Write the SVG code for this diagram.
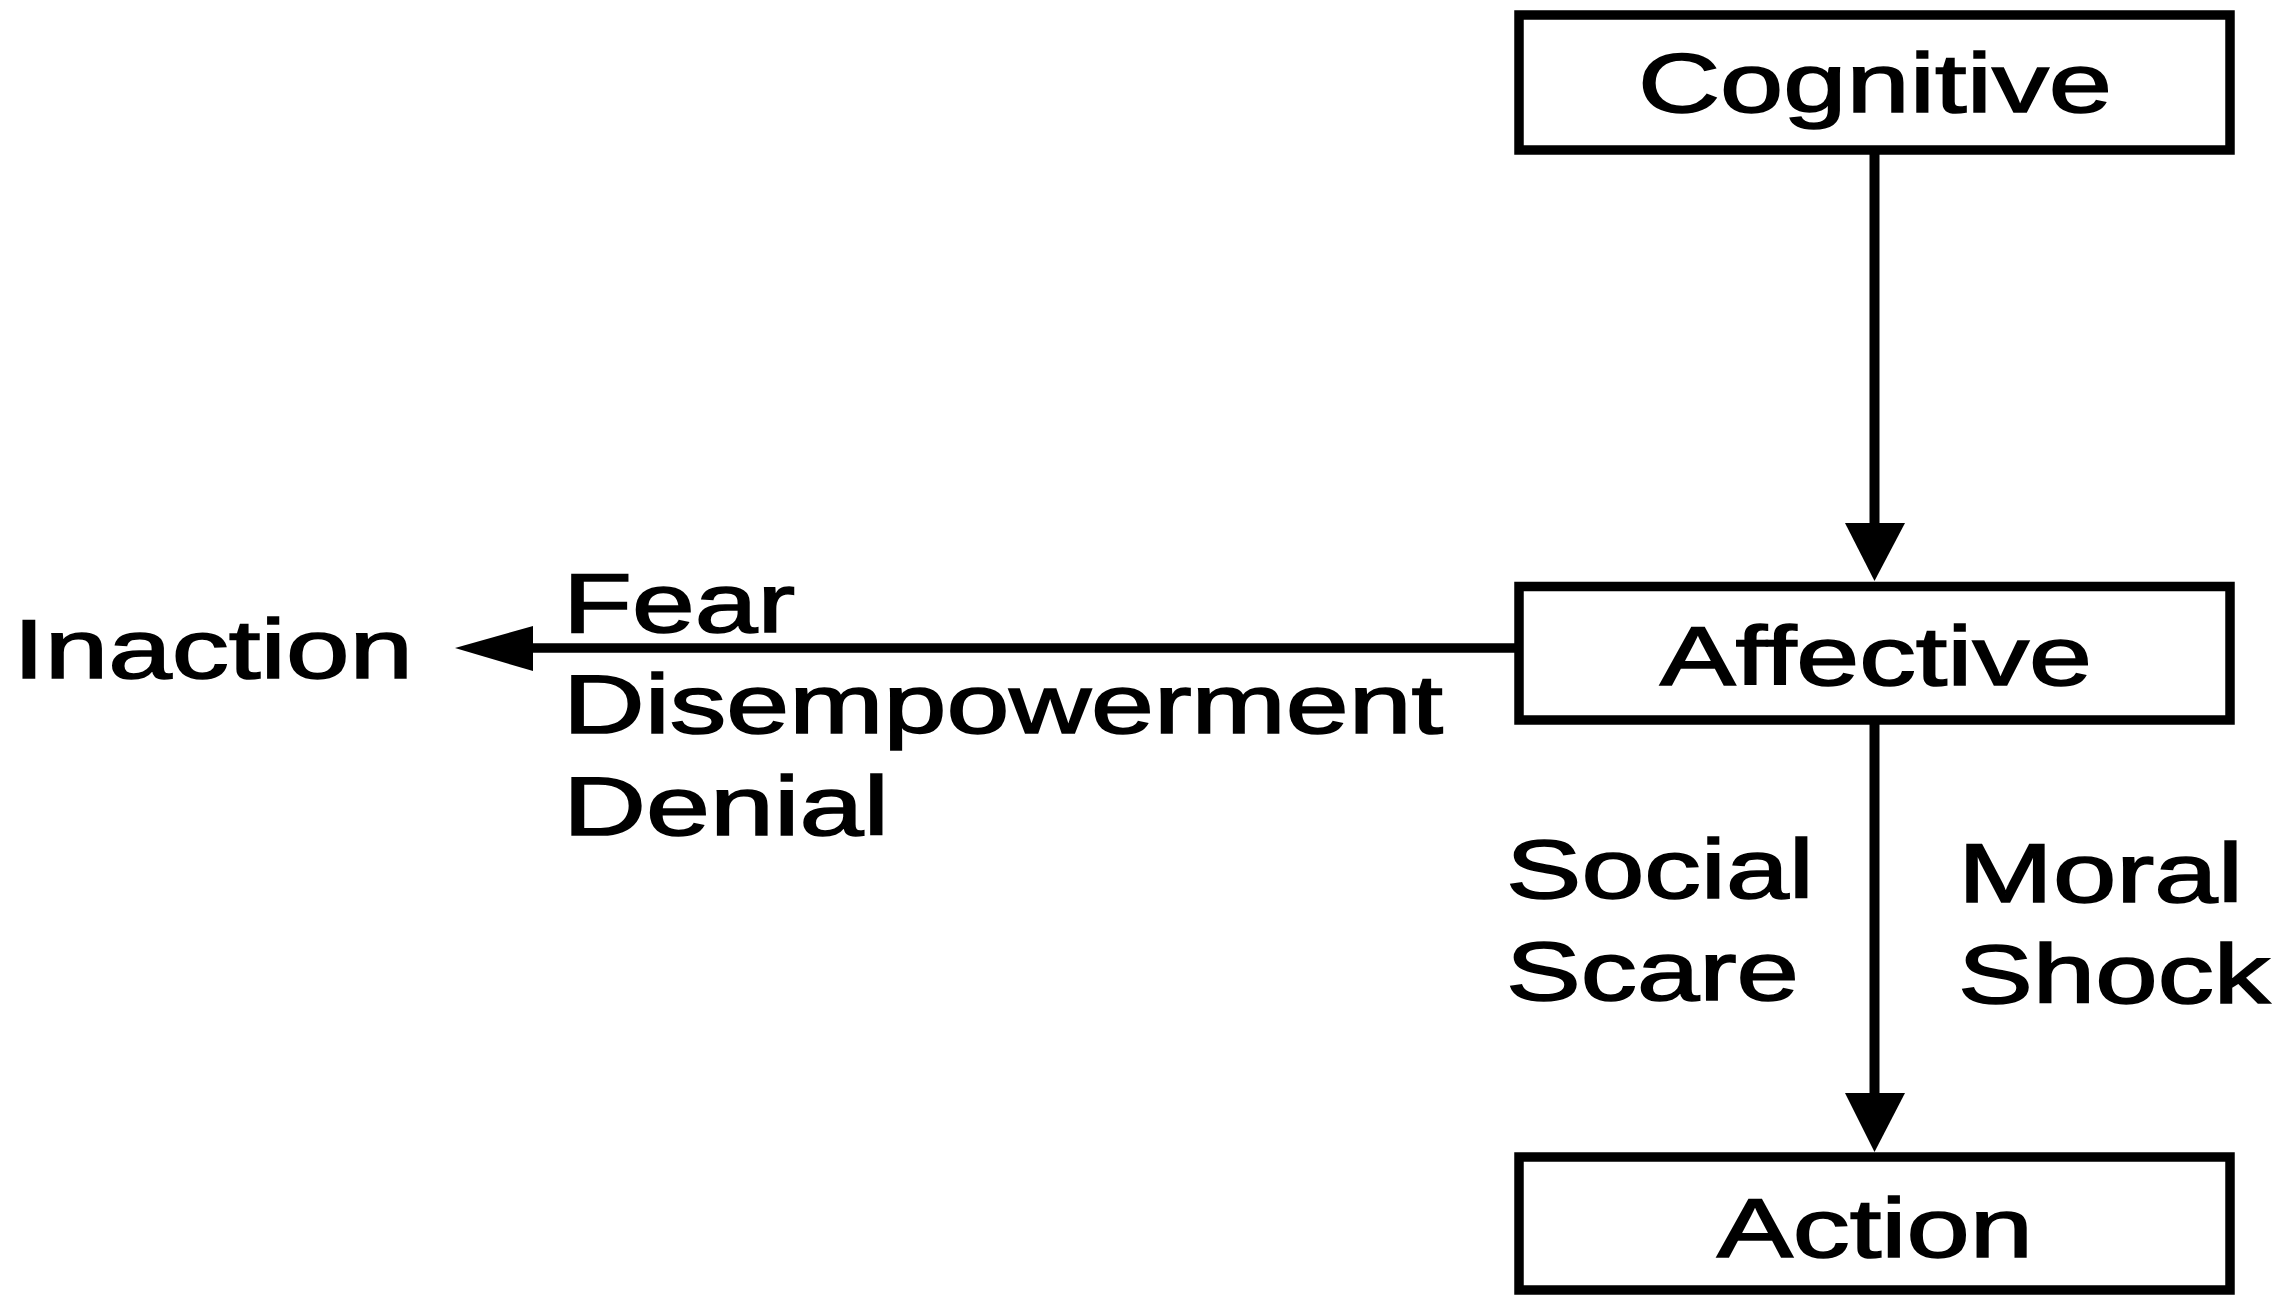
<svg xmlns="http://www.w3.org/2000/svg" width="2282" height="1295" viewBox="0 0 2282 1295">
  <style>
    .box { fill: #ffffff; stroke: #000000; stroke-width: 9.5; }
    .lbl { font-family: "Liberation Sans", Arial, sans-serif; font-size: 84px; fill: #000000; stroke: #000000; stroke-width: 1.6; }
    .edge { stroke: #000000; fill: none; }
    .head { fill: #000000; stroke: none; }
  </style>
  <rect x="0" y="0" width="2282" height="1295" fill="#ffffff"/>
  <g id="connectors">
    <line class="edge" x1="1874.5" y1="150" x2="1874.5" y2="525" stroke-width="10"/>
    <polygon class="head" points="1845,523 1905,523 1874.5,581"/>
    <line class="edge" x1="1874.5" y1="720" x2="1874.5" y2="1095" stroke-width="10"/>
    <polygon class="head" points="1845,1093 1905,1093 1874.5,1152"/>
    <line class="edge" x1="1519" y1="648" x2="530" y2="648" stroke-width="9.5"/>
    <polygon class="head" points="533,626 533,671 455,648"/>
  </g>
  <g id="node-cognitive">
    <rect class="box" x="1519" y="15" width="711" height="135"/>
    <text class="lbl" x="1638" y="112" textLength="474" lengthAdjust="spacingAndGlyphs">Cognitive</text>
  </g>
  <g id="node-affective">
    <rect class="box" x="1519" y="586.5" width="711" height="133.5"/>
    <text class="lbl" x="1660" y="685" textLength="432" lengthAdjust="spacingAndGlyphs">Affective</text>
  </g>
  <g id="node-action">
    <rect class="box" x="1519" y="1157" width="711" height="133"/>
    <text class="lbl" x="1717" y="1257" textLength="316" lengthAdjust="spacingAndGlyphs">Action</text>
  </g>
  <g id="node-inaction">
    <text class="lbl" x="13" y="678" textLength="400" lengthAdjust="spacingAndGlyphs">Inaction</text>
  </g>
  <g id="labels-inaction">
    <text class="lbl" x="563" y="632" textLength="232" lengthAdjust="spacingAndGlyphs">Fear</text>
    <text class="lbl" x="563" y="733" textLength="880" lengthAdjust="spacingAndGlyphs">Disempowerment</text>
    <text class="lbl" x="563" y="835" textLength="326" lengthAdjust="spacingAndGlyphs">Denial</text>
  </g>
  <g id="labels-action">
    <text class="lbl" x="1506" y="898" textLength="308" lengthAdjust="spacingAndGlyphs">Social</text>
    <text class="lbl" x="1506" y="1000" textLength="293" lengthAdjust="spacingAndGlyphs">Scare</text>
    <text class="lbl" x="1958" y="902" textLength="285" lengthAdjust="spacingAndGlyphs">Moral</text>
    <text class="lbl" x="1958" y="1003" textLength="312" lengthAdjust="spacingAndGlyphs">Shock</text>
  </g>
</svg>
